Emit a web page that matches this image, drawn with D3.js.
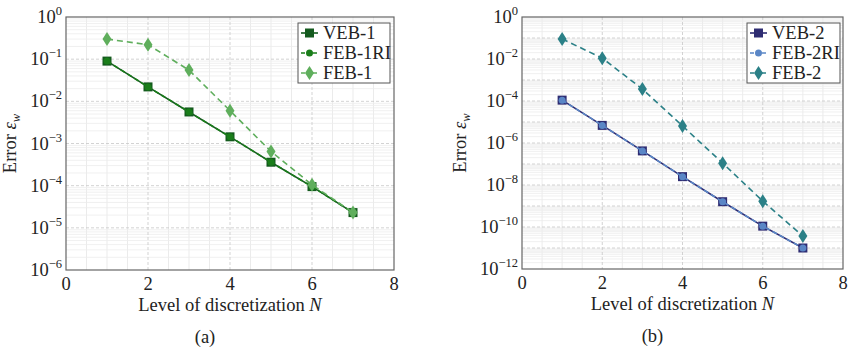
<!DOCTYPE html>
<html>
<head>
<meta charset="utf-8">
<script src="https://cdn.jsdelivr.net/npm/d3@7"></script>
<style>
  body { margin: 0; background: #fff; }
  svg { font-family: "Liberation Serif", "DejaVu Serif", serif; }
</style>
</head>
<body>
<div id="chart"></div>
<script>
// data
const levels = [1, 2, 3, 4, 5, 6, 7];
const veb1 = [0.09, 0.022, 0.0056, 0.00144, 3.6e-4, 9.5e-5, 2.3e-5];
const feb1ri = [0.09, 0.022, 0.0056, 0.00144, 3.6e-4, 9.5e-5, 2.3e-5];
const feb1 = [0.30, 0.22, 0.055, 0.006, 6.5e-4, 1.05e-4, 2.3e-5];
const veb2 = [1.1e-4, 6.9e-6, 4.2e-7, 2.5e-8, 1.6e-9, 1.1e-10, 1.0e-11];
const feb2ri = [1.1e-4, 6.9e-6, 4.2e-7, 2.5e-8, 1.6e-9, 1.1e-10, 1.0e-11];
const feb2 = [0.09, 0.011, 3.7e-4, 6.5e-6, 1.1e-7, 1.7e-9, 3.7e-11];
const xTicks = [0, 2, 4, 6, 8];

const FS = 18.5;

const svg = d3.select("#chart").append("svg")
    .attr("width", 849)
    .attr("height", 349);

function drawPanel(opt) {
    const g = svg.append("g").attr("transform", `translate(${opt.left},${opt.top})`);
    const w = opt.width, h = opt.height;

    const x = d3.scaleLinear().domain([0, 8]).range([0, w]);
    const y = d3.scaleLog().domain([Math.pow(10, opt.minExp), 1]).range([h, 0]);

    // minor grid
    const minorX = d3.range(0.5, 8, 0.5).filter(v => v % 2 !== 0);
    g.selectAll(".gx-minor").data(minorX).enter().append("line")
        .attr("x1", d => x(d)).attr("x2", d => x(d))
        .attr("y1", 0).attr("y2", h)
        .attr("stroke", "#e6e6e6").attr("stroke-width", 0.8);

    const minorY = [];
    for (let e = opt.minExp; e < 0; e++) {
        for (let m = 2; m <= 9; m++) minorY.push(m * Math.pow(10, e));
    }
    g.selectAll(".gy-minor").data(minorY).enter().append("line")
        .attr("x1", 0).attr("x2", w)
        .attr("y1", d => y(d)).attr("y2", d => y(d))
        .attr("stroke", "#ececec").attr("stroke-width", 0.8);

    // major grid
    g.selectAll(".gx-major").data([2, 4, 6]).enter().append("line")
        .attr("x1", d => x(d)).attr("x2", d => x(d))
        .attr("y1", 0).attr("y2", h)
        .attr("stroke", "#c8c8c8").attr("stroke-width", 0.8)
        .attr("stroke-dasharray", "3,2");

    const decades = d3.range(opt.minExp + 1, 0).map(e => Math.pow(10, e));
    g.selectAll(".gy-major").data(decades).enter().append("line")
        .attr("x1", 0).attr("x2", w)
        .attr("y1", d => y(d)).attr("y2", d => y(d))
        .attr("stroke", "#c8c8c8").attr("stroke-width", 0.8)
        .attr("stroke-dasharray", "3,2");

    // frame
    g.append("rect")
        .attr("width", w).attr("height", h)
        .attr("fill", "none").attr("stroke", "#666").attr("stroke-width", 1.2);

    // x axis labels
    g.selectAll(".xl").data(xTicks).enter().append("text")
        .attr("x", d => x(d)).attr("y", h + 20)
        .attr("text-anchor", "middle")
        .attr("font-size", FS).attr("fill", "#222")
        .text(d => d);

    // y axis labels
    const yLabels = d3.range(opt.minExp, 1, opt.labelStep);
    const yl = g.selectAll(".yl").data(yLabels).enter().append("text")
        .attr("x", -4).attr("y", d => y(Math.pow(10, d)) + 6)
        .attr("text-anchor", "end")
        .attr("font-size", FS).attr("fill", "#222");
    yl.append("tspan").text("10");
    yl.append("tspan").attr("dy", -8).attr("font-size", 12.5)
        .text(d => d === 0 ? "0" : "\u2212" + (-d));

    // axis titles
    g.append("text")
        .attr("x", w / 2).attr("y", h + 41)
        .attr("text-anchor", "middle")
        .attr("font-size", FS).attr("fill", "#222")
        .html('Level of discretization <tspan font-style="italic">N</tspan>');

    const yt = g.append("text")
        .attr("transform", `translate(${opt.yTitleX},${h / 2}) rotate(-90)`)
        .attr("text-anchor", "middle")
        .attr("font-size", FS).attr("fill", "#222");
    yt.append("tspan").text("Error ");
    yt.append("tspan").attr("font-style", "italic").text("\u03b5");
    yt.append("tspan").attr("font-style", "italic").attr("font-size", 12.5).attr("dy", 4).text("w");

    // caption
    g.append("text")
        .attr("x", w / 2 + opt.captionShift).attr("y", h + 73)
        .attr("text-anchor", "middle")
        .attr("font-size", FS).attr("fill", "#222")
        .text(opt.caption);

    // series
    const line = d3.line()
        .x((d, i) => x(levels[i]))
        .y(d => y(d));

    opt.series.forEach(s => {
        g.append("path")
            .datum(s.values)
            .attr("d", line)
            .attr("fill", "none")
            .attr("stroke", s.color)
            .attr("stroke-width", 1.6)
            .attr("stroke-dasharray", s.dash || null);

        const pts = g.selectAll(null).data(s.values).enter();
        drawMarker(pts, s, (d, i) => x(levels[i]), d => y(d));
    });

    // legend
    const lg = g.append("g").attr("transform", `translate(${opt.legendX},${opt.legendY})`);
    lg.append("rect")
        .attr("width", opt.legendW).attr("height", 60)
        .attr("fill", "#fff").attr("stroke", "#555").attr("stroke-width", 1);
    opt.series.forEach((s, i) => {
        const ly = 10 + i * 20;
        lg.append("line")
            .attr("x1", 3).attr("x2", 20).attr("y1", ly).attr("y2", ly)
            .attr("stroke", s.color).attr("stroke-width", 1.6)
            .attr("stroke-dasharray", s.dash ? "4,2" : null);
        drawMarker(lg.selectAll(null).data([0]).enter(), s, () => 11.5, () => ly);
        lg.append("text")
            .attr("x", 25).attr("y", ly + 6)
            .attr("font-size", FS).attr("fill", "#222")
            .text(s.name);
    });
}

function drawMarker(sel, s, fx, fy) {
    if (s.marker === "square") {
        sel.append("rect")
            .attr("x", (d, i) => fx(d, i) - 4.5).attr("y", d => fy(d) - 4.5)
            .attr("width", 9).attr("height", 9)
            .attr("fill", s.color);
    } else if (s.marker === "circle") {
        sel.append("circle")
            .attr("cx", (d, i) => fx(d, i)).attr("cy", d => fy(d))
            .attr("r", 3.5).attr("fill", s.color);
    } else {
        sel.append("path")
            .attr("transform", (d, i) => `translate(${fx(d, i)},${fy(d)})`)
            .attr("d", "M0,-7L4.5,0L0,7L-4.5,0Z")
            .attr("fill", s.color);
    }
}

drawPanel({
    left: 66, top: 17, width: 328, height: 253,
    minExp: -6, labelStep: 1, yTitleX: -50, captionShift: -25,
    caption: "(a)",
    legendX: 232, legendY: 6, legendW: 92,
    series: [
        { name: "VEB-1", values: veb1, color: "#145a1e", marker: "square" },
        { name: "FEB-1RI", values: feb1ri, color: "#1a7d1a", marker: "circle", dash: "5,3" },
        { name: "FEB-1", values: feb1, color: "#5fae5c", marker: "diamond", dash: "6,4" }
    ]
});

drawPanel({
    left: 522, top: 17, width: 321, height: 252,
    minExp: -12, labelStep: 2, yTitleX: -56, captionShift: -30,
    caption: "(b)",
    legendX: 225, legendY: 6, legendW: 93,
    series: [
        { name: "VEB-2", values: veb2, color: "#2e2c72", marker: "square" },
        { name: "FEB-2RI", values: feb2ri, color: "#5a86c6", marker: "circle", dash: "5,3" },
        { name: "FEB-2", values: feb2, color: "#2b8087", marker: "diamond", dash: "6,4" }
    ]
});
</script>
</body>
</html>
